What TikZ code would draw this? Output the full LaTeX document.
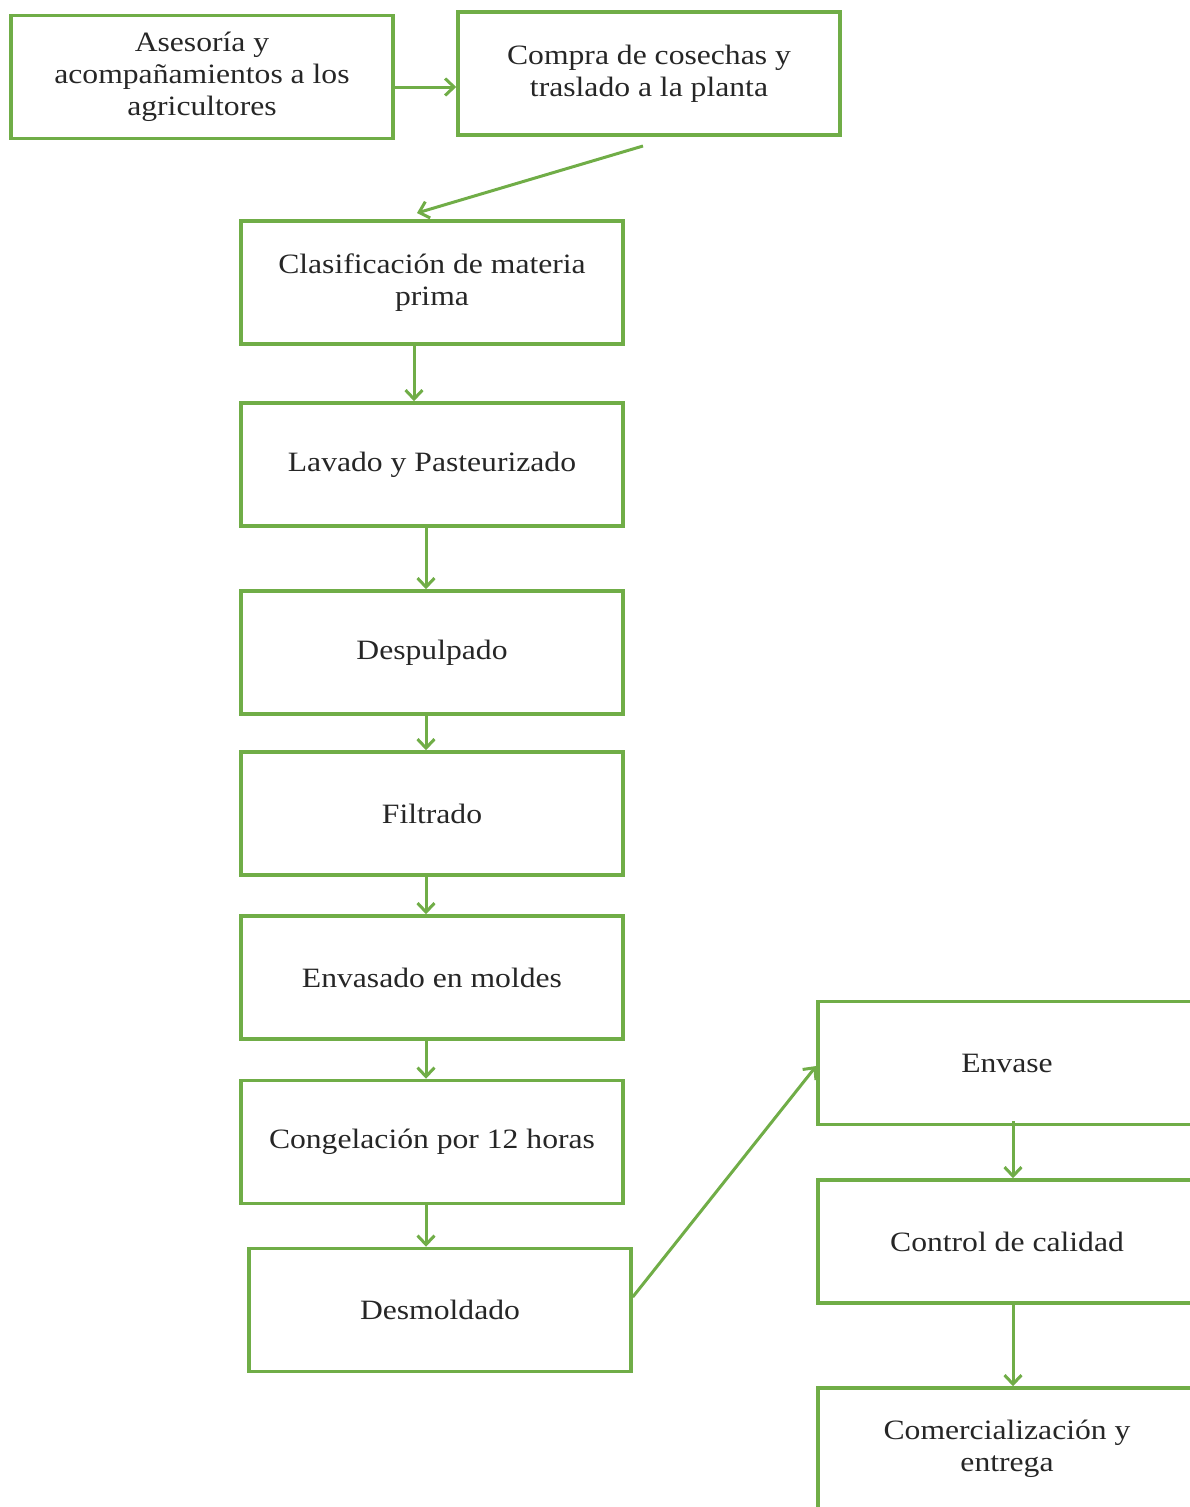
\documentclass[tikz,border=0pt]{standalone}
\usepackage{fontspec}
\setmainfont{Liberation Serif}[FakeStretch=1.13]
\usetikzlibrary{arrows.meta}
\definecolor{leaf}{HTML}{70AD47}
\definecolor{ink}{HTML}{262626}
\tikzset{
  stage/.style={draw=leaf, line width=3.5pt, fill=none, minimum width=382pt,
    minimum height=123pt, inner sep=0pt, align=center, text=ink,
    font=\fontsize{28}{32}\selectfont},
  flow/.style={draw=leaf, line width=3pt,
    -{Straight Barb[length=9pt,width=17pt,line width=3pt]}}
}
\begin{document}
\begin{tikzpicture}[x=1pt,y=-1pt]
\useasboundingbox (0,0) rectangle (1190,1507);
\clip (0,0) rectangle (1190,1507);

% supply side
\node[stage] (advice) at (202,77) {Asesoría y\\acompañamientos a los\\agricultores};
\node[stage] (buy) at (649,73.5) {Compra de cosechas y\\traslado a la planta};

% processing line
\node[stage] (sort) at (432,282.5) {Clasificación de materia\\prima};
\node[stage] (wash) at (432,464.5) {Lavado y Pasteurizado};
\node[stage] (pulp) at (432,652.5) {Despulpado};
\node[stage] (filter) at (432,813.5) {Filtrado};
\node[stage] (mould) at (432,977.5) {Envasado en moldes};
\node[stage] (freeze) at (432,1142) {Congelación por 12 horas};
\node[stage] (unmould) at (440,1310) {Desmoldado};

% distribution side
\node[stage, minimum width=378pt] (pack) at (1007,1063) {Envase};
\node[stage, minimum width=378pt] (check) at (1007,1241.5) {Control de calidad};
\node[stage, minimum width=378pt, minimum height=122pt] (sell) at (1007,1449) {Comercialización y\\entrega};

% connectors
\coordinate (buyout) at (643,146);
\coordinate (sortin) at (417,213);
\draw[flow] ([yshift=-10pt]advice.east) -- ([yshift=-13.5pt]buy.west);
\draw[flow] (buyout) -- (sortin);
\draw[flow] ([xshift=-18pt]sort.south) -- ([xshift=-18pt]wash.north);
\draw[flow] ([xshift=-6pt]wash.south) -- ([xshift=-6pt]pulp.north);
\draw[flow] ([xshift=-6pt]pulp.south) -- ([xshift=-6pt]filter.north);
\draw[flow] ([xshift=-6pt]filter.south) -- ([xshift=-6pt]mould.north);
\draw[flow] ([xshift=-6pt]mould.south) -- ([xshift=-6pt]freeze.north);
\draw[flow] ([xshift=-6pt]freeze.south) -- ([xshift=-6pt]freeze.south |- unmould.north);
\draw[flow] ([yshift=13pt]unmould.east) -- ([yshift=-3pt]pack.west);
\draw[flow] ([xshift=6pt,yshift=5pt]pack.south) -- ([xshift=6pt]check.north);
\draw[flow] ([xshift=6pt]check.south) -- ([xshift=6pt]sell.north);
\end{tikzpicture}
\end{document}
